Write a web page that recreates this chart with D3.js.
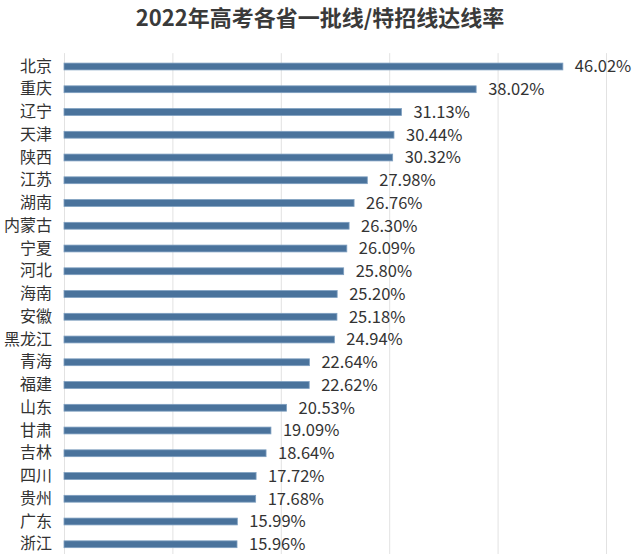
<!DOCTYPE html>
<html>
<head>
<meta charset="utf-8">
<script src="https://cdn.jsdelivr.net/npm/d3@7"></script>
<style>
  html, body { margin: 0; padding: 0; background: #fff; }
  svg { display: block; }
  text { font-family: "Noto Sans CJK SC", "Noto Sans", sans-serif; }
</style>
</head>
<body>
<svg id="chart" width="640" height="554"></svg>
<script>
const title = "2022年高考各省一批线/特招线达线率";
const categories = ["北京","重庆","辽宁","天津","陕西","江苏","湖南","内蒙古","宁夏","河北","海南","安徽","黑龙江","青海","福建","山东","甘肃","吉林","四川","贵州","广东","浙江"];
const values = [46.02,38.02,31.13,30.44,30.32,27.98,26.76,26.30,26.09,25.80,25.20,25.18,24.94,22.64,22.62,20.53,19.09,18.64,17.72,17.68,15.99,15.96];
const xTicks = [0,10,20,30,40,50];

const svg = d3.select("#chart");
const W = 640, H = 554;
const left = 64, right = 606;
const rowStep = 22.75, firstCenter = 66.5;

const x = d3.scaleLinear().domain([0, 50]).range([left, right]);
const y = d3.scaleBand()
  .domain(categories)
  .range([firstCenter - rowStep/2, firstCenter - rowStep/2 + rowStep*categories.length])
  .paddingInner(0.7).paddingOuter(0.35);

svg.append("rect").attr("width", W).attr("height", H).attr("fill", "#fff");

// title
svg.append("text")
  .attr("x", 320).attr("y", 26)
  .attr("text-anchor", "middle")
  .attr("font-size", 22).attr("font-weight", "bold")
  .attr("fill", "#3a3a3a")
  .text(title);

// grid
const grid = svg.append("g")
  .attr("transform", `translate(0,${firstCenter - rowStep/2 - 2})`)
  .call(d3.axisBottom(x).tickValues(xTicks).tickSize(H).tickFormat(""));
grid.select(".domain").remove();
grid.selectAll(".tick line").attr("stroke", "#e2e2e2").attr("stroke-width", 1);

// bars
svg.append("g").selectAll("rect")
  .data(categories)
  .join("rect")
  .attr("x", x(0))
  .attr("y", (d) => y(d))
  .attr("width", (d, i) => x(values[i]) - x(0))
  .attr("height", y.bandwidth())
  .attr("fill", "#4a739c")
  .attr("stroke", "#7e9fc0")
  .attr("stroke-width", 0.8);

// category labels
const yAxis = svg.append("g")
  .attr("transform", `translate(${left - 4},0)`)
  .call(d3.axisLeft(y).tickSize(0).tickPadding(8));
yAxis.select(".domain").remove();
yAxis.selectAll("text")
  .attr("font-size", 16)
  .attr("fill", "#333")
  .style("font-family", '"Noto Sans CJK SC", sans-serif');

// value labels
svg.append("g").selectAll("text")
  .data(categories)
  .join("text")
  .attr("x", (d, i) => x(values[i]) + 12)
  .attr("y", (d) => y(d) + y.bandwidth()/2)
  .attr("dy", "0.35em")
  .attr("font-size", 16.5)
  .attr("fill", "#333")
  .text((d, i) => values[i].toFixed(2) + "%");
</script>
</body>
</html>
